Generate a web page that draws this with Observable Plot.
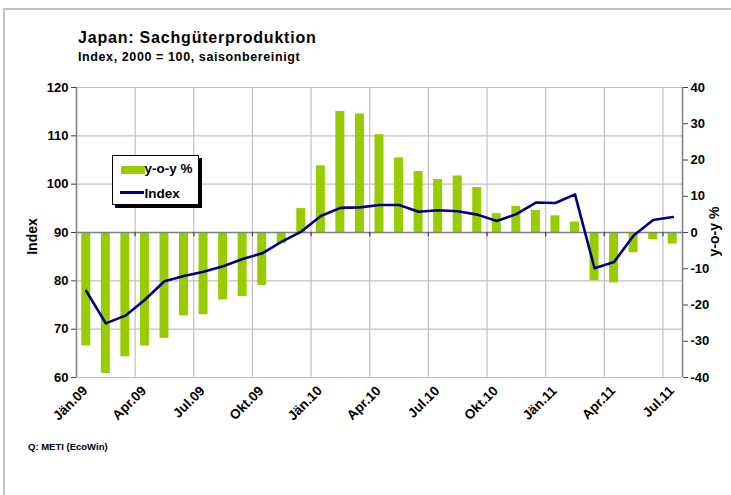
<!DOCTYPE html>
<html><head><meta charset="utf-8">
<script src="https://cdn.jsdelivr.net/npm/d3@7"></script>
<script src="https://cdn.jsdelivr.net/npm/@observablehq/plot@0.6"></script>
<style>
body{margin:0;background:#fff;}
#wrap{position:relative;width:731px;height:495px;overflow:hidden;font-family:"Liberation Sans",Arial,sans-serif;font-weight:bold;color:#000;}
#chart{position:absolute;left:0;top:0;}
#frame{position:absolute;left:3px;top:8px;width:760px;height:520px;border:2px solid #c0c0c0;box-sizing:border-box;}
#title{position:absolute;left:78px;top:29.5px;font-size:16px;line-height:16px;letter-spacing:0.8px;white-space:nowrap;}
#sub{position:absolute;left:78px;top:50.5px;font-size:12.5px;line-height:12.5px;letter-spacing:0.6px;white-space:nowrap;}
#cap{position:absolute;left:28px;top:442px;font-size:9.5px;line-height:9.5px;white-space:nowrap;}
#legend{position:absolute;left:112px;top:155px;width:87px;height:50px;border:1px solid #000;background:#fff;box-shadow:3px 3px 0 #000;box-sizing:border-box;font-size:13.5px;}
#legend .sw{position:absolute;left:8px;top:10px;width:24px;height:7.5px;background:#99cc00;}
#legend .ln{position:absolute;left:7px;top:35.2px;width:24px;height:3px;background:#000080;}
#legend .t1{position:absolute;left:31.5px;top:5.6px;line-height:13.5px;white-space:nowrap;}
#legend .t2{position:absolute;left:31.5px;top:30.9px;line-height:13.5px;white-space:nowrap;}
</style></head><body>
<div id="wrap">
  <div id="chart"></div>
  <div id="title">Japan: Sachgüterproduktion</div>
  <div id="sub">Index, 2000 = 100, saisonbereinigt</div>
  <div id="legend"><div class="sw"></div><div class="t1">y-o-y %</div><div class="ln"></div><div class="t2">Index</div></div>
  <div id="cap">Q: METI (EcoWin)</div>
  <div id="frame"></div>
</div>
<script>
const months = ["Jän.09","Feb.09","Mär.09","Apr.09","Mai.09","Jun.09","Jul.09","Aug.09","Sep.09","Okt.09","Nov.09","Dez.09",
  "Jän.10","Feb.10","Mär.10","Apr.10","Mai.10","Jun.10","Jul.10","Aug.10","Sep.10","Okt.10","Nov.10","Dez.10",
  "Jän.11","Feb.11","Mär.11","Apr.11","Mai.11","Jun.11","Jul.11"];
const yoy = [-31.3,-38.9,-34.3,-31.3,-29.2,-23.0,-22.7,-18.6,-17.7,-14.6,-3.1,6.6,
  18.4,33.4,32.7,27.0,20.6,16.8,14.6,15.6,12.4,5.2,7.2,6.1,
  4.6,2.9,-13.3,-13.9,-5.6,-2.0,-3.2];
const indexValues = [77.9,71.2,72.8,76.1,79.9,81.0,81.9,83.0,84.5,85.7,88.1,90.2,
  93.4,95.1,95.2,95.7,95.7,94.3,94.6,94.4,93.7,92.4,93.8,96.2,
  96.1,97.9,82.6,83.9,89.4,92.6,93.2];
const leftTicks = [60,70,80,90,100,110,120];
const rightTicks = [-40,-30,-20,-10,0,10,20,30,40];

const W = 731, H = 495, ML = 76, MR = 49, MT = 87, MB = 118;
const n = months.length;
const step = (W - ML - MR) / n;
// map y-o-y (-40..40) onto index axis (60..120)
const toIdx = v => 90 + v * 0.75;
const fromIdx = v => (v - 90) / 0.75;

const data = months.map((m, i) => ({m, yoy: yoy[i], idx: indexValues[i]}));
const labelMonths = months.filter((m, i) => i % 3 === 0);
const boundaryMonths = months.filter((m, i) => i % 3 === 2 && i < n - 1);
const grid = "#c0c0c0", axisCol = "#808080";
const font = {fontSize: 13, fontWeight: "bold"};

const chart = Plot.plot({
  width: W, height: H,
  marginLeft: ML, marginRight: MR, marginTop: MT, marginBottom: MB,
  style: {background: "transparent", fontFamily: "'Liberation Sans', Arial, sans-serif", fontWeight: "bold", color: "#000", overflow: "visible"},
  x: {type: "band", domain: months, paddingInner: 0.54, paddingOuter: 0.27, round: false, label: null},
  y: {domain: [60, 120], label: null},
  marks: [
    Plot.ruleY(leftTicks.filter(v => v !== 90), {y: d => d, stroke: grid, strokeWidth: 1.2}),
    Plot.ruleX(boundaryMonths, {x: d => d, dx: step / 2, stroke: grid, strokeWidth: 1.2}),
    Plot.barY(data, {x: "m", y1: 90, y2: d => toIdx(d.yoy), fill: "#99cc00"}),
    Plot.ruleY([90], {stroke: axisCol, strokeWidth: 1.5}),
    Plot.ruleX(boundaryMonths, {x: d => d, dx: step / 2, y1: 90, y2: 89.1, stroke: "#404040", strokeWidth: 1.2}),
    Plot.line(data, {x: "m", y: "idx", stroke: "#000080", strokeWidth: 2.6}),
    Plot.ruleX([months[0]], {x: d => d, dx: -step / 2, stroke: axisCol, strokeWidth: 1.5}),
    Plot.ruleX([months[n - 1]], {x: d => d, dx: step / 2, stroke: axisCol, strokeWidth: 1.5}),
    Plot.axisY({anchor: "left", ticks: leftTicks, tickSize: 5, tickPadding: 3, stroke: "#404040", label: null, ...font}),
    Plot.axisY({anchor: "right", ticks: rightTicks.map(toIdx), tickFormat: v => String(Math.round(fromIdx(v))), tickSize: 5, tickPadding: 3, stroke: "#404040", label: null, ...font}),
    Plot.axisX({ticks: labelMonths, tickSize: 0, tickPadding: 11, tickRotate: -45, label: null, fontSize: 13.5, fontWeight: "bold", dx: -1}),
    Plot.text(["Index"], {frameAnchor: "left", dx: -44, dy: 4, rotate: -90, textAnchor: "middle", text: d => d, fontSize: 14, fontWeight: "bold"}),
    Plot.text(["y-o-y %"], {frameAnchor: "right", dx: 32, dy: -1, rotate: -90, textAnchor: "middle", text: d => d, fontSize: 14, fontWeight: "bold"})
  ]
});
document.getElementById("chart").appendChild(chart);
</script>
</body></html>
